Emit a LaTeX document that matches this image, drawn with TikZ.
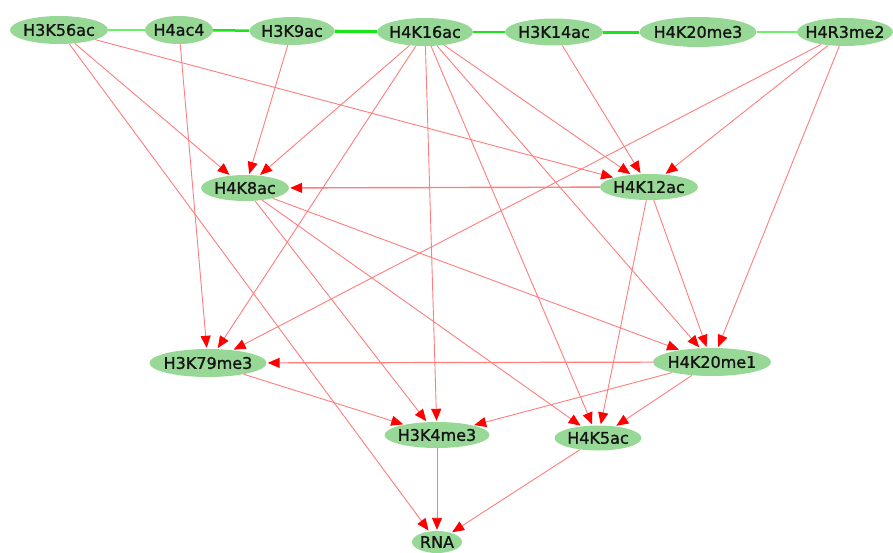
\documentclass[tikz,border=0pt]{standalone}
\usepackage{fontspec}
\setmainfont{DejaVu Sans}
\newfontfamily\lblfont{DejaVu Sans}[FakeBold=1.2]
\usetikzlibrary{shapes.geometric,arrows.meta,backgrounds}
\definecolor{nodegreen}{RGB}{152,216,150}
\definecolor{edgered}{RGB}{255,125,125}
\definecolor{linkgreen}{RGB}{25,230,25}
\definecolor{linklight}{RGB}{110,240,110}
\begin{document}
\begin{tikzpicture}[x=1pt,y=-1pt,
  hnode/.style={ellipse,fill=nodegreen,inner sep=0pt,minimum height=28pt,
    font=\lblfont\fontsize{16}{16}\selectfont,text={black!92}},
  rel/.style={draw=edgered,line width=0.9pt,
    -{Triangle[length=12pt,width=10pt,color=red]},shorten >=1pt},
  link/.style={draw=linkgreen,line width=2.5pt},
  linkthin/.style={draw=linklight,line width=2pt}]
\useasboundingbox (0,0) rectangle (893,552);
% nodes
\node[hnode,minimum width=98pt] (k56) at (59,30) {\makebox[0pt]{H3K56ac}};
\node[hnode,minimum width=68pt] (ac4) at (179,30) {\makebox[0pt]{H4ac4}};
\node[hnode,minimum width=85pt] (k9) at (292,31) {\makebox[0pt]{H3K9ac}};
\node[hnode,minimum width=96pt] (k16) at (425,32) {\makebox[0pt]{H4K16ac}};
\node[hnode,minimum width=98pt,minimum height=27pt] (k14) at (554,32) {\makebox[0pt]{H3K14ac}};
\node[hnode,minimum width=117pt,minimum height=30pt] (k20me3) at (698,32) {\makebox[0pt]{H4K20me3}};
\node[hnode,minimum width=96pt] (r3) at (845,32) {\makebox[0pt]{H4R3me2}};
\node[hnode,minimum width=88pt,minimum height=26pt] (k8) at (245,188) {\makebox[0pt]{H4K8ac}};
\node[hnode,minimum width=98pt,minimum height=26pt] (k12) at (649,187) {\makebox[0pt]{H4K12ac}};
\node[hnode,minimum width=117pt] (k79) at (208,363) {\makebox[0pt]{H3K79me3}};
\node[hnode,minimum width=118pt] (k20me1) at (712,362) {\makebox[0pt]{H4K20me1}};
\node[hnode,minimum width=105pt,minimum height=26pt] (k4) at (437,435) {\makebox[0pt]{H3K4me3}};
\node[hnode,minimum width=87pt,minimum height=25pt] (k5) at (598,438) {\makebox[0pt]{H4K5ac}};
\node[hnode,minimum width=50pt,minimum height=22pt] (rna) at (437,542) {\makebox[0pt]{RNA}};
\begin{pgfonlayer}{background}
% green links
\draw[linkthin] (k56) -- (ac4);
\draw[link] (ac4) -- (k9);
\draw[link,line width=3.2pt] (k9) -- (k16);
\draw[link] (k16) -- (k14);
\draw[link,line width=3pt] (k14) -- (k20me3);
\draw[linkthin] (k20me3) -- (r3);
% red directed edges
\draw[rel] (k56) -- (k8);
\draw[rel] (k56) -- (k12);
\draw[rel] (k56) -- (rna);
\draw[rel] (ac4) -- (k79);
\draw[rel] (k9) -- (k8);
\draw[rel] (k16) -- (k8);
\draw[rel] (k16) -- (k79);
\draw[rel] (k16) -- (k4);
\draw[rel] (k16) -- (k5);
\draw[rel] (k16) -- (k20me1);
\draw[rel] (k16) -- (k12);
\draw[rel] (k14) -- (k12);
\draw[rel] (r3) -- (k12);
\draw[rel] (r3) -- (k20me1);
\draw[rel] (r3) -- (k79);
\draw[rel,line width=1.4pt] (k12) -- (k8);
\draw[rel] (k12) -- (k20me1);
\draw[rel] (k12) -- (k5);
\draw[rel] (k8) -- (k20me1);
\draw[rel] (k8) -- (k4);
\draw[rel] (k8) -- (k5);
\draw[rel] (k79) -- (k4);
\draw[rel,line width=1.2pt] (k20me1) -- (k79);
\draw[rel] (k20me1) -- (k4);
\draw[rel] (k20me1) -- (k5);
\draw[rel] (k4) -- (rna);
\draw[rel] (k5) -- (rna);
\end{pgfonlayer}
\end{tikzpicture}
\end{document}
